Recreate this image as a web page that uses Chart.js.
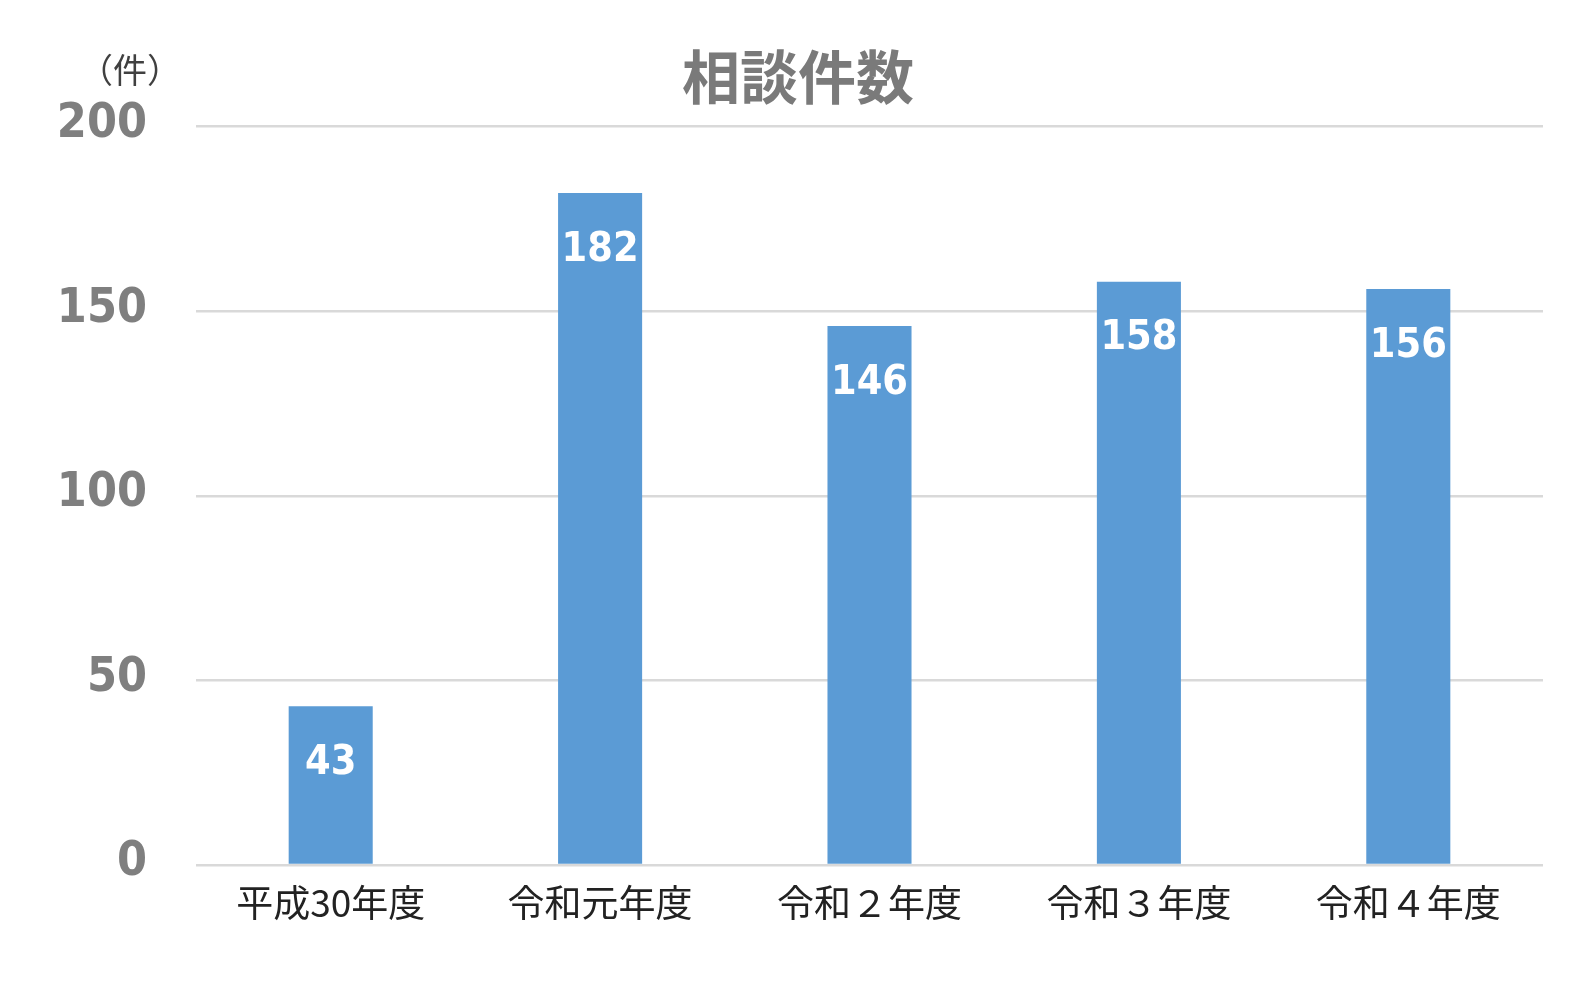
<!DOCTYPE html>
<html lang="ja">
<head>
<meta charset="utf-8">
<title>相談件数</title>
<script src="https://cdn.jsdelivr.net/npm/chart.js@4/dist/chart.umd.min.js"></script>
<style>
  html, body { margin: 0; padding: 0; background: #ffffff; }
  #wrap { width: 1592px; height: 986px; }
</style>
</head>
<body>
<div id="wrap"><canvas id="chart" width="1592" height="986"></canvas></div>
<script>
// Fiscal years and consultation counts
const categories = ['平成30年度', '令和元年度', '令和２年度', '令和３年度', '令和４年度'];
const counts = [43, 182, 146, 158, 156];
const yTicks = [0, 50, 100, 150, 200];
const titleText = '相談件数';
const unitText = '（件）';

const numFont = "'DejaVu Sans Condensed', 'DejaVu Sans', sans-serif";
const jpFont = "'Noto Sans CJK JP', 'Noto Sans', sans-serif";

// White value labels inside the top of each bar
const valueLabels = {
  id: 'valueLabels',
  afterDatasetsDraw(chart) {
    const ctx = chart.ctx;
    const meta = chart.getDatasetMeta(0);
    ctx.save();
    ctx.fillStyle = '#ffffff';
    ctx.font = 'bold 41px ' + numFont;
    ctx.textAlign = 'center';
    ctx.textBaseline = 'middle';
    meta.data.forEach((bar, i) => {
      ctx.fillText(String(counts[i]), bar.x, bar.y + 57);
    });
    ctx.restore();
  }
};

// Unit caption above the value axis
const unitLabel = {
  id: 'unitLabel',
  afterDraw(chart) {
    const ctx = chart.ctx;
    const y = chart.scales.y;
    ctx.save();
    ctx.fillStyle = '#404040';
    ctx.font = '34px ' + jpFont;
    ctx.textAlign = 'center';
    ctx.textBaseline = 'middle';
    ctx.fillText(unitText, y.right - 66, y.top - 57);
    ctx.restore();
  }
};

new Chart(document.getElementById('chart'), {
  type: 'bar',
  data: {
    labels: categories,
    datasets: [{
      data: counts,
      backgroundColor: '#5b9bd5',
      borderWidth: 0,
      categoryPercentage: 1,
      barPercentage: 0.312
    }]
  },
  options: {
    responsive: false,
    animation: false,
    devicePixelRatio: 1,
    layout: { padding: { left: 53, right: 49, top: 0, bottom: 0 } },
    plugins: {
      legend: { display: false },
      tooltip: { enabled: false },
      title: {
        display: true,
        text: titleText,
        color: '#7a7a7a',
        font: { family: jpFont, size: 58, weight: 'bold', lineHeight: 1.2 },
        padding: { top: 42, bottom: 15 }
      }
    },
    scales: {
      x: {
        grid: { display: false, drawTicks: false },
        border: { display: false },
        ticks: {
          color: '#222222',
          font: { family: jpFont, size: 37 },
          padding: 16,
          maxRotation: 0,
          autoSkip: false
        },
        afterFit(scale) { scale.height = 121; }
      },
      y: {
        min: 0,
        max: 200,
        afterBuildTicks(scale) { scale.ticks = yTicks.map(v => ({ value: v })); },
        grid: { color: '#d9d9d9', lineWidth: 2.5, drawTicks: false },
        border: { display: false },
        ticks: {
          color: '#7f7f7f',
          font: { family: numFont, size: 48, weight: 'bold' },
          padding: 49,
          labelOffset: -2
        },
        afterFit(scale) { scale.width = 143; }
      }
    }
  },
  plugins: [valueLabels, unitLabel]
});
</script>
</body>
</html>
